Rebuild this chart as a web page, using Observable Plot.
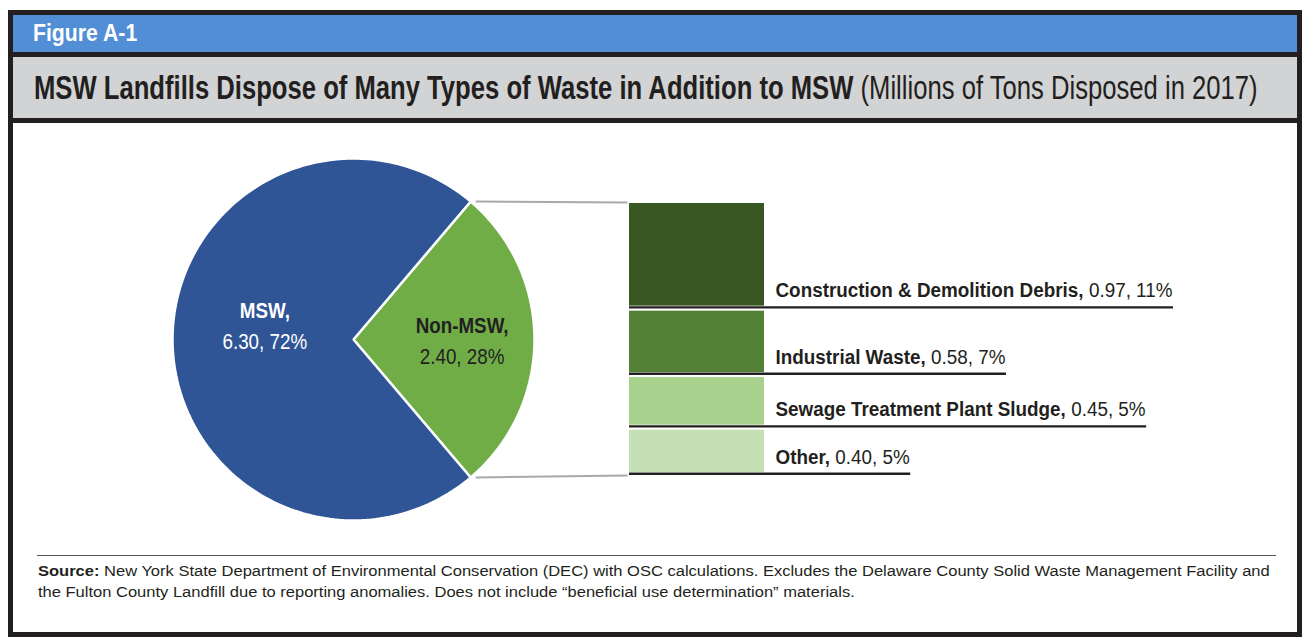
<!DOCTYPE html>
<html>
<head>
<meta charset="utf-8">
<script src="https://cdn.jsdelivr.net/npm/d3@7"></script>
<script src="https://cdn.jsdelivr.net/npm/@observablehq/plot@0.6"></script>
<style>
  html, body { margin: 0; padding: 0; background: #fff; }
  #frame { position: absolute; left: 8px; top: 10px; width: 1294px; height: 627px; box-sizing: border-box;
           border: 5px solid #231f20; background: #fff; overflow: hidden; }
  #fig { height: 37px; line-height: 37px; background: #528ed6; color: #fff; font-weight: bold;
         padding-left: 20px; border-bottom: 5px solid #231f20; white-space: nowrap; }
  #title { height: 61px; line-height: 61px; background: #d1d3d4; color: #231f20; padding-left: 21px;
           border-bottom: 5px solid #231f20; white-space: nowrap; }
  .cond { display: inline-block; transform-origin: 0 50%; white-space: nowrap; }
  #chart svg { display: block; }
  #source { margin: 12px 0 0 24px; width: 1238px; border-top: 1px solid #555; padding-top: 4px;
            color: #231f20; line-height: 21px; white-space: nowrap; padding-left: 1px; }
</style>
</head>
<body>
<div id="frame">
  <div id="fig"></div>
  <div id="title"></div>
  <div id="chart"></div>
  <div id="source"></div>
</div>
<script>
// ---------------- DATA ----------------
const figureLabel = "Figure A-1";
const titleBold = "MSW Landfills Dispose of Many Types of Waste in Addition to MSW";
const titleRegular = "(Millions of Tons Disposed in 2017)";

const pieCategories = ["MSW", "Non-MSW"];
const pieValues = [6.30, 2.40];
const piePercents = ["72%", "28%"];

const breakdownCategories = ["Construction & Demolition Debris", "Industrial Waste", "Sewage Treatment Plant Sludge", "Other"];
const breakdownValues = [0.97, 0.58, 0.45, 0.40];
const breakdownPercents = ["11%", "7%", "5%", "5%"];

const sourceBold = "Source:";
const sourceLine1 = "New York State Department of Environmental Conservation (DEC) with OSC calculations. Excludes the Delaware County Solid Waste Management Facility and";
const sourceLine2 = "the Fulton County Landfill due to reporting anomalies. Does not include \u201cbeneficial use determination\u201d materials.";

// ---------------- STYLE / LAYOUT ----------------
const FONT = '"Liberation Sans",Arial,Helvetica,sans-serif';
const colorDomain = [...pieCategories, ...breakdownCategories];
const colorRange = ["#2f5597", "#70ad47", "#385723", "#538135", "#a9d18e", "#c5e0b4"];
const W = 1284, H = 420;
const PIE = {cx: 340, cy: 216, r: 181};
const LABEL = {"MSW": {f: 0.49, dy: -18, fill: "#ffffff"}, "Non-MSW": {f: 0.60, dy: -3, fill: "#231f20"}};
const BAR = {x1: 616, x2: 751, top: 80, bottom: 349, gap: 5, textX: 762, textLift: 9};
const SIZES = {fig: 23.5, title: 33, bar: 21, pie: 22, source: 15.5};

// ---------------- TEXT MEASURE (condensed emulation) ----------------
const ctx = document.createElement("canvas").getContext("2d");
function measure(text, weight, size) { ctx.font = `${weight} ${size}px ${FONT}`; return ctx.measureText(text).width; }
function ratio(parts, size, target) { return target / d3.sum(parts, p => measure(p[0], p[1], size)); }

function condensed(el, html, size, r) {
  el.style.fontFamily = FONT;
  el.style.fontSize = size + "px";
  el.innerHTML = `<span class="cond" style="transform:scaleX(${r})">${html}</span>`;
}

const rFig = ratio([[figureLabel, "bold"]], SIZES.fig, 105);
condensed(document.getElementById("fig"), figureLabel, SIZES.fig, rFig);

const rTitle = ratio([[titleBold, "bold"], [" " + titleRegular, "normal"]], SIZES.title, 1225);
condensed(document.getElementById("title"), `<b>${titleBold}</b> <span>${titleRegular}</span>`, SIZES.title, rTitle);

const rSrc = ratio([[sourceBold, "bold"], [" " + sourceLine1, "normal"]], SIZES.source, 1232);
const srcEl = document.getElementById("source");
condensed(srcEl, `<b>${sourceBold}</b> ${sourceLine1}<br>${sourceLine2}`, SIZES.source, rSrc);
srcEl.firstChild.style.transformOrigin = "0 0";

// ---------------- PIE GEOMETRY ----------------
const fmt = d3.format(".2f");
const pieRows = pieCategories.map((name, i) => ({name, value: pieValues[i], pct: piePercents[i]}));
const total = d3.sum(pieValues);
const half = Math.PI * pieValues[1] / total;
const arcs = d3.pie().sort(null).value(d => d.value)
  .startAngle(Math.PI / 2 - half).endAngle(Math.PI / 2 - half + 2 * Math.PI)([pieRows[1], pieRows[0]]);
const polar = (a, rr) => ({x: PIE.cx + rr * Math.sin(a), y: PIE.cy - rr * Math.cos(a)});
const piePts = [];
for (const a of arcs) {
  const n = 180;
  piePts.push({name: a.data.name, ...polar(0, 0)});
  for (let i = 0; i <= n; i++) {
    const t = a.startAngle + (a.endAngle - a.startAngle) * i / n;
    piePts.push({name: a.data.name, ...polar(t, PIE.r)});
  }
}
const rPie = ratio([["Non-MSW,", "bold"]], SIZES.pie, 93);
const pieLabels = arcs.map(a => {
  const L = LABEL[a.data.name];
  const p = polar((a.startAngle + a.endAngle) / 2, PIE.r * L.f);
  return {name: a.data.name, x: p.x, y: p.y + L.dy, l1: a.data.name + ",", l2: fmt(a.data.value) + ", " + a.data.pct, fill: L.fill};
});

// ---------------- BAR GEOMETRY ----------------
const rBar = ratio([[breakdownCategories[0] + ",", "bold"], [" " + fmt(breakdownValues[0]) + ", " + breakdownPercents[0], "normal"]], SIZES.bar, 397);
const k = (BAR.bottom - BAR.top - BAR.gap * (breakdownValues.length - 1)) / d3.sum(breakdownValues);
let yCursor = BAR.top;
const barRows = breakdownCategories.map((name, i) => {
  const top = yCursor, bottom = top + breakdownValues[i] * k;
  yCursor = bottom + BAR.gap;
  const bold = name + ",";
  const reg = fmt(breakdownValues[i]) + ", " + breakdownPercents[i];
  const bw = measure(bold, "bold", SIZES.bar) * rBar, sw = measure(" ", "normal", SIZES.bar) * rBar,
        rw = measure(reg, "normal", SIZES.bar) * rBar;
  return {name, top, bottom, bold, reg, regX: BAR.textX + bw + sw, lineEnd: BAR.textX + bw + sw + rw + 1};
});

// connectors
const nonMsw = arcs[0];
const cTop = polar(nonMsw.startAngle, PIE.r), cBot = polar(nonMsw.endAngle, PIE.r);
const connectors = [
  {x1: cTop.x + 5, y1: cTop.y, x2: BAR.x1 - 2, y2: barRows[0].top - 1},
  {x1: cBot.x + 5, y1: cBot.y, x2: BAR.x1 - 2, y2: barRows[barRows.length - 1].bottom + 3}
];

// ---------------- PLOT ----------------
const textOpts = {fontFamily: FONT, lineAnchor: "bottom"};
const chart = Plot.plot({
  width: W, height: H, margin: 0,
  x: {domain: [0, W], range: [0, W], axis: null},
  y: {domain: [0, H], range: [0, H], axis: null},
  color: {domain: colorDomain, range: colorRange},
  style: {background: "transparent"},
  marks: [
    Plot.line(piePts, {x: "x", y: "y", z: "name", fill: "name", stroke: "#ffffff", strokeWidth: 2.5,
                       strokeLinejoin: "miter", curve: "linear-closed"}),
    Plot.link(connectors, {x1: "x1", y1: "y1", x2: "x2", y2: "y2", stroke: "#a9a9ab", strokeWidth: 2}),
    Plot.rect(barRows, {x1: () => BAR.x1, x2: () => BAR.x2, y1: "top", y2: "bottom", fill: "name"}),
    Plot.ruleY(barRows, {y: d => d.bottom + 1.2, x1: () => BAR.x1, x2: "lineEnd", stroke: "#231f20", strokeWidth: 2.4}),
    Plot.text(barRows, {...textOpts, x: () => BAR.textX, y: d => d.bottom - BAR.textLift, text: "bold", textAnchor: "start",
                        fontSize: SIZES.bar, fontWeight: "bold", fill: "#231f20"}),
    Plot.text(barRows, {...textOpts, x: "regX", y: d => d.bottom - BAR.textLift, text: "reg", textAnchor: "start",
                        fontSize: SIZES.bar, fontWeight: "normal", fill: "#231f20"}),
    Plot.text(pieLabels, {...textOpts, x: "x", y: d => d.y - 4, text: "l1", textAnchor: "middle",
                          fontSize: SIZES.pie, fontWeight: "bold", fill: d => d.fill}),
    Plot.text(pieLabels, {...textOpts, x: "x", y: d => d.y + 27, text: "l2", textAnchor: "middle",
                          fontSize: SIZES.pie, fontWeight: "normal", fill: d => d.fill})
  ]
});
document.getElementById("chart").appendChild(chart);

// emulate the condensed typeface of the original: compress each text horizontally about its anchor
const textGroups = chart.querySelectorAll('g[aria-label="text"]');
const groupRatios = [rBar, rBar, rPie, rPie];
textGroups.forEach((g, gi) => {
  g.querySelectorAll("text").forEach(t => {
    const x = +(t.getAttribute("x") || 0);
    const tr = t.getAttribute("transform") || "";
    t.setAttribute("transform", `${tr} translate(${x},0) scale(${groupRatios[gi]},1) translate(${-x},0)`);
  });
});
</script>
</body>
</html>
